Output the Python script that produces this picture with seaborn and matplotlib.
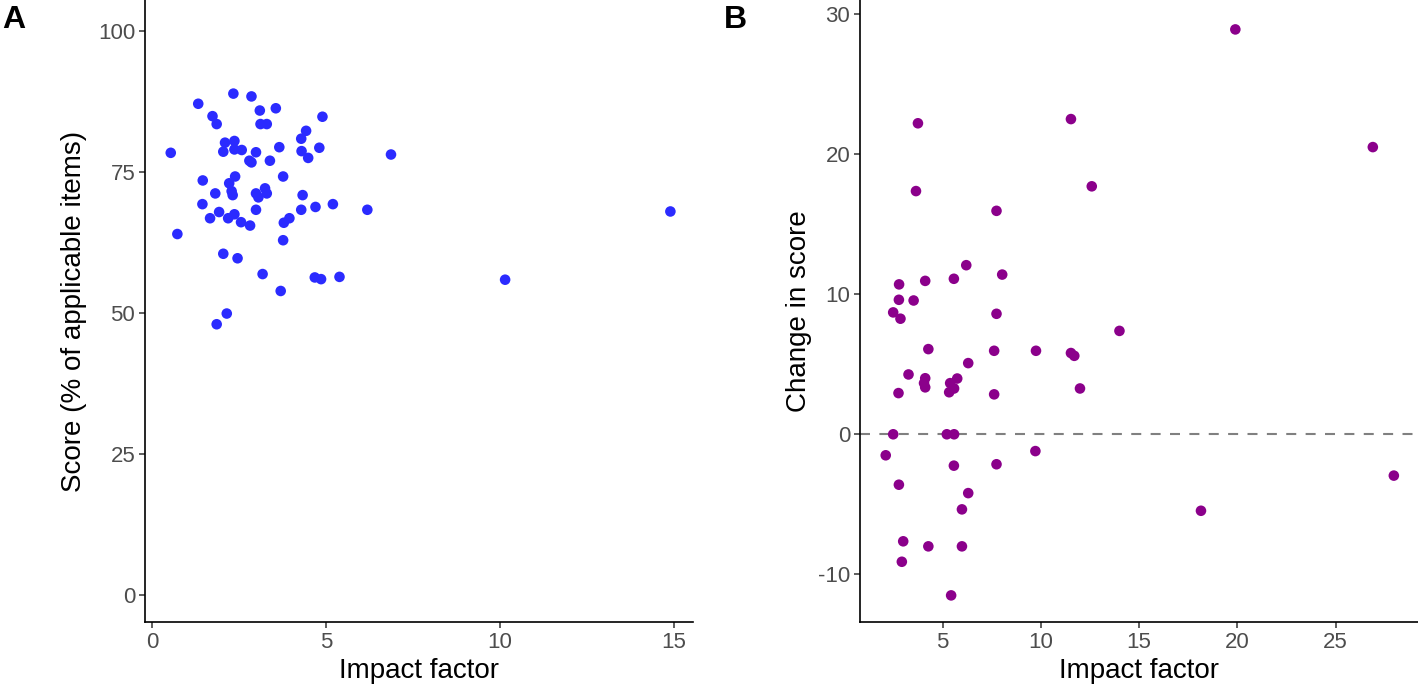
import matplotlib
matplotlib.use("Agg")
import matplotlib.pyplot as plt
import seaborn as sns
import pandas as pd

# Panel A: impact factor vs score
impact_a = [2.34, 2.86, 1.33, 3.10, 3.56, 1.74, 4.90, 1.86, 3.12, 3.30, 4.43, 4.29,
            2.10, 2.37, 2.05, 2.37, 2.58, 2.99, 3.66, 4.30, 4.49, 4.81, 0.54, 6.87,
            2.80, 2.86, 3.39, 2.39, 3.77, 1.46, 2.22, 1.82, 2.29, 2.32, 2.99, 3.25,
            3.30, 3.06, 4.33, 1.45, 1.93, 1.67, 2.19, 2.37, 2.56, 2.82, 2.99, 4.29,
            4.70, 5.20, 6.19, 3.79, 3.95, 0.73, 3.77, 2.05, 2.46, 3.18, 4.68, 4.86,
            5.39, 3.70, 2.15, 1.86, 10.15, 14.9]
score_a = [88.9, 88.4, 87.1, 85.9, 86.3, 84.9, 84.8, 83.5, 83.5, 83.5, 82.3, 80.9,
           80.2, 80.5, 78.6, 79.0, 78.9, 78.5, 79.4, 78.7, 77.5, 79.3, 78.4, 78.1,
           77.0, 76.7, 77.0, 74.2, 74.2, 73.5, 73.0, 71.2, 71.6, 70.9, 71.2, 72.1,
           71.2, 70.5, 70.9, 69.3, 67.9, 66.8, 66.8, 67.5, 66.1, 65.5, 68.3, 68.3,
           68.8, 69.3, 68.3, 66.0, 66.8, 64.0, 62.9, 60.5, 59.7, 56.9, 56.3, 56.0,
           56.4, 53.9, 49.9, 48.0, 55.9, 68.0]

# Panel B: impact factor vs change in score
impact_b = [6.20, 8.03, 2.78, 4.11, 5.57, 2.77, 3.52, 2.48, 2.85, 7.74, 14.0, 4.27,
            7.62, 9.75, 11.53, 11.70, 6.30, 3.26, 4.11, 4.05, 4.11, 5.74, 5.38, 5.58,
            5.33, 2.75, 7.62, 11.99, 2.48, 5.21, 5.58, 2.10, 9.72, 5.57, 7.74, 2.77,
            6.30, 5.98, 2.99, 4.27, 5.98, 2.92, 5.43,
            3.74, 11.53, 3.64, 7.74, 12.59,
            19.9, 26.9, 18.15, 27.97]
change_b = [12.07, 11.4, 10.7, 10.95, 11.1, 9.6, 9.55, 8.7, 8.25, 8.6, 7.38, 6.08,
            5.96, 5.96, 5.8, 5.6, 5.08, 4.27, 4.0, 3.65, 3.35, 3.98, 3.65, 3.27,
            3.0, 2.94, 2.85, 3.27, 0.0, 0.0, 0.0, -1.5, -1.2, -2.24, -2.14, -3.6,
            -4.2, -5.36, -7.64, -8.0, -8.0, -9.1, -11.5,
            22.2, 22.5, 17.36, 15.95, 17.7,
            28.9, 20.5, -5.46, -2.95]

df_a = pd.DataFrame({"impact": impact_a, "score": score_a})
df_b = pd.DataFrame({"impact": impact_b, "change": change_b})

sns.set_theme(style="ticks")
plt.rcParams["font.family"] = ["Liberation Sans", "DejaVu Sans"]
plt.rcParams["axes.unicode_minus"] = False

fig = plt.figure(figsize=(14.18, 6.95), dpi=100)
ax_a = fig.add_axes([145 / 1418, 73 / 695, 548 / 1418, 622 / 695])
ax_b = fig.add_axes([860 / 1418, 73 / 695, 558 / 1418, 622 / 695])

sns.scatterplot(data=df_a, x="impact", y="score", ax=ax_a, color="#2b2bff",
                s=58, linewidth=0, edgecolor="none")
sns.scatterplot(data=df_b, x="impact", y="change", ax=ax_b, color="#8b008b",
                s=58, linewidth=0, edgecolor="none", zorder=3)
ax_b.axhline(0, color="#808080", lw=1.5, linestyle=(0, (4.8, 4.5)), zorder=2)

ax_a.set_xlim(-0.2, 15.55)
ax_a.set_ylim(-4.8, 105.5)
ax_a.set_xticks([0, 5, 10, 15])
ax_a.set_yticks([0, 25, 50, 75, 100])
ax_a.set_xlabel("Impact factor", fontsize=20, color="black")
ax_a.set_ylabel("Score (% of applicable items)", fontsize=20, color="black")

ax_b.set_xlim(0.79, 29.2)
ax_b.set_ylim(-13.4, 31.0)
ax_b.set_xticks([5, 10, 15, 20, 25])
ax_b.set_yticks([-10, 0, 10, 20, 30])
ax_b.set_xlabel("Impact factor", fontsize=20, color="black")
ax_b.set_ylabel("Change in score", fontsize=20, color="black")

for ax in (ax_a, ax_b):
    sns.despine(ax=ax)
    for sp in ("left", "bottom"):
        ax.spines[sp].set_linewidth(1.2)
        ax.spines[sp].set_color("black")
    ax.tick_params(axis="both", labelsize=16, labelcolor="#4d4d4d",
                   color="#333333", length=4, width=1.1, pad=3)
    ax.xaxis.labelpad = 4
ax_a.yaxis.labelpad = 8
ax_b.yaxis.labelpad = 4

fig.text(2 / 1418, 1 - 5 / 695, "A", fontsize=23, fontweight="bold", va="top",
         ha="left", color="black")
fig.text(724 / 1418, 1 - 5 / 695, "B", fontsize=23, fontweight="bold", va="top",
         ha="left", color="black")

fig.savefig("out.png", dpi=100)
